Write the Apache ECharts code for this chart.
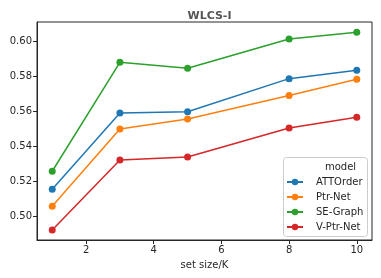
<!DOCTYPE html>
<html><head><meta charset="utf-8">
<script src="https://cdn.jsdelivr.net/npm/echarts@6/dist/echarts.min.js"></script>
<style>html,body{margin:0;padding:0;background:#fff}#c{width:381px;height:278px}</style>
</head><body><div id="c"></div>
<script>
const xValues = [1, 3, 5, 8, 10];
const seriesNames = ['ATTOrder', 'Ptr-Net', 'SE-Graph', 'V-Ptr-Net'];
const attOrder = [0.5156, 0.5591, 0.5598, 0.5787, 0.5835];
const ptrNet = [0.5059, 0.5500, 0.5557, 0.5691, 0.5783];
const seGraph = [0.5259, 0.5880, 0.5846, 0.6013, 0.6051];
const vPtrNet = [0.4924, 0.5323, 0.5340, 0.5506, 0.5567];
const xTicks = [2, 4, 6, 8, 10];
const yTicks = [0.50, 0.52, 0.54, 0.56, 0.58, 0.60];
const colors = ['#1f77b4', '#ff7f0e', '#2ca02c', '#d62728'];
const allData = [attOrder, ptrNet, seGraph, vPtrNet];

const chart = echarts.init(document.getElementById('c'), null, {renderer: 'canvas'});
const font = 'DejaVu Sans';
chart.setOption({
  animation: false,
  color: colors,
  title: {
    text: 'WLCS-I', left: 204.5, top: 6, textAlign: 'center',
    textStyle: {fontFamily: font, fontSize: 11, fontWeight: 'bold', color: '#555'}
  },
  grid: {left: 37, right: 9, top: 22, bottom: 38, show: true, borderColor: '#262626', borderWidth: 1},
  xAxis: {
    type: 'value', min: 0.55, max: 10.45,
    name: 'set size/K', nameLocation: 'middle', nameGap: 20,
    nameTextStyle: {fontFamily: font, fontSize: 10, color: '#262626'},
    axisLine: {show: true, onZero: false, lineStyle: {color: '#262626'}},
    axisTick: {show: true, customValues: xTicks, length: 4, lineStyle: {color: '#262626'}},
    axisLabel: {customValues: xTicks, fontFamily: font, fontSize: 10, color: '#262626', margin: 5},
    splitLine: {show: false}
  },
  yAxis: {
    type: 'value', min: 0.4867, max: 0.611,
    axisLine: {show: true, onZero: false, lineStyle: {color: '#262626'}},
    axisTick: {show: true, customValues: yTicks, length: 4, lineStyle: {color: '#262626'}},
    axisLabel: {customValues: yTicks, fontFamily: font, fontSize: 10, color: '#262626', margin: 5,
      formatter: v => v.toFixed(2)},
    splitLine: {show: false}
  },
  legend: {
    orient: 'vertical', left: 281, top: 172, z: 10,
    itemWidth: 16, itemHeight: 8, itemGap: 5,
    textStyle: {fontFamily: font, fontSize: 10, color: '#262626', padding: [0, 0, 0, 8]},
    data: seriesNames
  },
  graphic: [
    {type: 'rect', left: 283, top: 157, shape: {width: 84, height: 79, r: 3},
     style: {fill: 'rgba(255,255,255,0.8)', stroke: '#ccc', lineWidth: 1}, z: 3},
    {type: 'text', left: 325, top: 162, style: {text: 'model', font: '10px "DejaVu Sans"', fill: '#262626', textAlign: 'center'}, z: 100}
  ],
  series: seriesNames.map((n, i) => ({
    name: n, type: 'line',
    data: xValues.map((x, j) => [x, allData[i][j]]),
    symbol: 'circle', symbolSize: 7,
    lineStyle: {width: 1.5}, itemStyle: {color: colors[i]}
  }))
});
</script></body></html>
